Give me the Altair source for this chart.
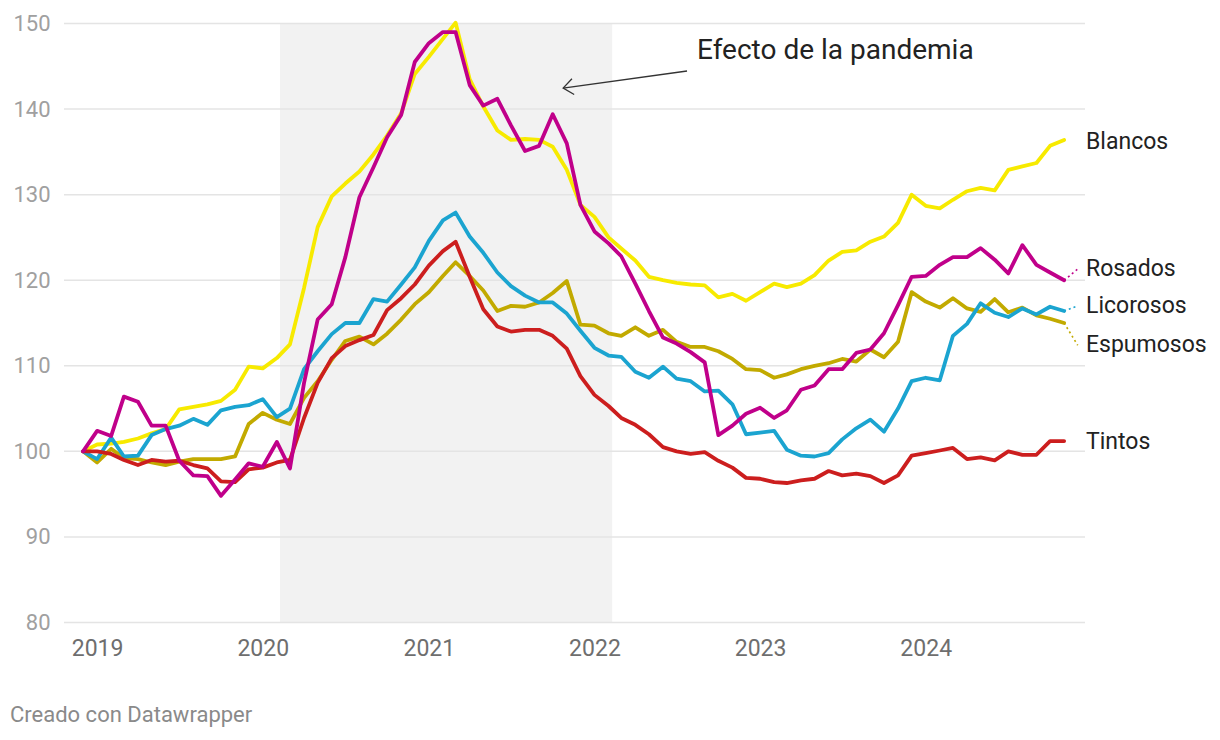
import altair as alt
import pandas as pd

# ---- data (monthly index, base Dec 2018 = 100) ----
fechas = list(pd.date_range("2018-12-01", periods=72, freq="MS").strftime("%Y-%m-%d"))

blancos = [100, 100.8, 100.9, 101.1, 101.5, 102.1, 102.6, 104.9, 105.2, 105.5,
           105.9, 107.2, 109.9, 109.7, 110.9, 112.5, 119.1, 126.2, 129.8, 131.3,
           132.7, 134.7, 136.9, 139.5, 144.1, 146.1, 148.2, 150.1, 143.5, 140.3,
           137.5, 136.4, 136.5, 136.4, 135.6, 132.9, 128.8, 127.4, 125.0, 123.7,
           122.3, 120.4, 120.0, 119.7, 119.5, 119.4, 118.0, 118.4, 117.6, 118.6,
           119.6, 119.2, 119.6, 120.6, 122.3, 123.3, 123.5, 124.5, 125.1, 126.7,
           130.0, 128.7, 128.4, 129.4, 130.4, 130.8, 130.5, 132.9, 133.3, 133.7,
           135.7, 136.4]
rosados = [100, 102.4, 101.8, 106.4, 105.8, 103.0, 103.0, 98.9, 97.2, 97.1,
           94.8, 96.7, 98.6, 98.2, 101.1, 98.0, 108.0, 115.4, 117.2, 122.7,
           129.7, 133.2, 136.7, 139.3, 145.5, 147.7, 149.0, 149.0, 142.8, 140.4,
           141.2, 138.1, 135.1, 135.7, 139.4, 136.0, 128.8, 125.7, 124.3, 122.8,
           119.6, 116.4, 113.3, 112.6, 111.6, 110.4, 101.9, 103.0, 104.4, 105.1,
           103.9, 104.8, 107.2, 107.7, 109.6, 109.6, 111.5, 111.9, 113.8, 117.1,
           120.4, 120.5, 121.8, 122.7, 122.7, 123.75, 122.4, 120.8, 124.1, 121.8,
           120.9, 120.0]
licorosos = [100, 99.1, 101.6, 99.4, 99.5, 101.9, 102.6, 103.0, 103.8, 103.1,
             104.8, 105.2, 105.4, 106.1, 104.0, 105.0, 109.6, 111.7, 113.7, 115.0,
             115.0, 117.8, 117.5, 119.5, 121.5, 124.6, 127.0, 127.9, 125.1, 123.2,
             120.9, 119.3, 118.2, 117.4, 117.4, 116.1, 114.1, 112.1, 111.2, 111.05,
             109.3, 108.6, 109.9, 108.5, 108.2, 107.0, 107.1, 105.5, 102.0, 102.2,
             102.4, 100.2, 99.5, 99.4, 99.8, 101.4, 102.7, 103.7, 102.3, 105.0,
             108.2, 108.6, 108.3, 113.5, 114.9, 117.3, 116.2, 115.7, 116.7, 116.0,
             116.9, 116.4]
espumosos = [100, 98.7, 100.3, 99.2, 99.1, 98.7, 98.4, 98.8, 99.1, 99.1,
             99.1, 99.4, 103.2, 104.5, 103.7, 103.2, 106.25, 108.2, 110.7, 112.9,
             113.4, 112.5, 113.75, 115.4, 117.2, 118.6, 120.5, 122.1, 120.5, 118.8,
             116.4, 117.0, 116.9, 117.4, 118.5, 119.9, 114.8, 114.7, 113.8, 113.5,
             114.5, 113.5, 114.2, 112.8, 112.2, 112.2, 111.7, 110.8, 109.6, 109.5,
             108.6, 109.0, 109.6, 110.0, 110.3, 110.8, 110.5, 111.9, 111.0, 112.8,
             118.6, 117.5, 116.8, 117.9, 116.7, 116.3, 117.8, 116.25, 116.8, 115.9,
             115.5, 115.0]
tintos = [100, 100, 99.7, 99.0, 98.4, 99.0, 98.8, 98.9, 98.4, 98.0,
          96.5, 96.4, 97.9, 98.1, 98.7, 99.0, 103.9, 108.0, 110.9, 112.3,
          113.0, 113.6, 116.5, 117.9, 119.5, 121.7, 123.4, 124.5, 120.4, 116.6,
          114.6, 114.0, 114.2, 114.2, 113.5, 112.0, 108.8, 106.6, 105.3, 103.9,
          103.1, 102.0, 100.5, 100.0, 99.7, 99.9, 98.9, 98.1, 96.9, 96.8,
          96.4, 96.3, 96.6, 96.8, 97.7, 97.2, 97.4, 97.1, 96.3, 97.2,
          99.5, 99.8, 100.1, 100.4, 99.1, 99.3, 98.95, 100.0, 99.6, 99.6,
          101.2, 101.2]

series = ["Blancos", "Espumosos", "Licorosos", "Tintos", "Rosados"]
valores = {"Blancos": blancos, "Rosados": rosados, "Licorosos": licorosos,
           "Espumosos": espumosos, "Tintos": tintos}
colores = {"Blancos": "#f7ea00", "Rosados": "#c0008a", "Licorosos": "#1ba4d0",
           "Espumosos": "#c2aa00", "Tintos": "#cc1e1e"}

# label anchor values on the right
etiqueta_pos = {"Blancos": 136.2, "Rosados": 121.3, "Licorosos": 117.0,
                "Espumosos": 112.4, "Tintos": 101.1}
con_conector = ["Rosados", "Licorosos", "Espumosos"]

y_ticks = [80, 90, 100, 110, 120, 130, 140, 150]
years = [2019, 2020, 2021, 2022, 2023, 2024]

banda_ini = "2020-02-08"
banda_fin = "2022-02-09"

# ---- tables ----
rows = []
for s in series:
    for f, v in zip(fechas, valores[s]):
        rows.append({"serie": s, "fecha": f, "valor": v})
df = pd.DataFrame(rows)

df_lab = pd.DataFrame({"serie": list(etiqueta_pos.keys()),
                       "pos": list(etiqueta_pos.values())})
df_con = pd.DataFrame({
    "serie": con_conector,
    "f1": [fechas[-1]] * len(con_conector),
    "v1": [valores[s][-1] for s in con_conector],
    "f2": ["2024-12-01"] * len(con_conector),
    "v2": [etiqueta_pos[s] for s in con_conector],
})
df_grid = pd.DataFrame({"valor": y_ticks})
df_band = pd.DataFrame({"ini": [banda_ini], "fin": [banda_fin]})
df_arrow = pd.DataFrame({"f1": ["2022-07-24"], "v1": [144.45],
                         "f2": ["2021-10-24"], "v2": [142.46]})
df_annot = pd.DataFrame({"fecha": ["2022-08-15"], "valor": [146.8],
                         "texto": ["Efecto de la pandemia"]})

FONT = "Roboto"

xscale = alt.Scale(type="utc", domain=[
    alt.DateTime(year=2018, month=10, date=20, utc=True),
    alt.DateTime(year=2024, month=12, date=17, utc=True)])
yscale = alt.Scale(domain=[80, 150], nice=False, zero=False)

x_axis = alt.Axis(values=[alt.DateTime(year=y, month=1, date=1, utc=True) for y in years],
                  format="%Y", formatType="utc", grid=False, domain=False, ticks=False,
                  tickSize=0, labelPadding=15, labelFontSize=23, labelColor="#6e6e6e",
                  labelFont=FONT, labelFlush=False, labelOverlap=False, title=None)
y_axis = alt.Axis(values=y_ticks, grid=False, domain=False, ticks=False, tickSize=0,
                  labelPadding=14, labelFontSize=22, labelColor="#a0a0a0",
                  labelFont=FONT, title=None)

band = alt.Chart(df_band).mark_rect(color="#f2f2f2").encode(
    x=alt.X("ini:T", scale=xscale, axis=x_axis),
    x2="fin:T",
)

grid = alt.Chart(df_grid).mark_rule(color="#e4e4e4", strokeWidth=1.5).encode(
    y=alt.Y("valor:Q", scale=yscale, axis=y_axis)
)

lines = []
for s in series:
    lines.append(
        alt.Chart(df).transform_filter(alt.datum.serie == s).mark_line(
            color=colores[s], strokeWidth=3.8, strokeJoin="round", strokeCap="round"
        ).encode(
            x=alt.X("fecha:T", scale=xscale),
            y=alt.Y("valor:Q", scale=yscale),
        )
    )

color_scale = alt.Scale(domain=list(colores.keys()), range=list(colores.values()))

conectores = alt.Chart(df_con).mark_rule(strokeDash=[2, 3], strokeWidth=1.6).encode(
    x=alt.X("f1:T", scale=xscale), x2="f2:T",
    y=alt.Y("v1:Q", scale=yscale), y2="v2:Q",
    color=alt.Color("serie:N", scale=color_scale, legend=None),
)

etiquetas = alt.Chart(df_lab).mark_text(
    align="left", baseline="middle", fontSize=23, font=FONT, color="#222222"
).encode(
    x=alt.value(1022),
    y=alt.Y("pos:Q", scale=yscale),
    text="serie:N",
)

flecha = alt.Chart(df_arrow).mark_rule(color="#333333", strokeWidth=1.3).encode(
    x=alt.X("f1:T", scale=xscale), x2="f2:T",
    y=alt.Y("v1:Q", scale=yscale), y2="v2:Q",
)
punta = alt.Chart(df_arrow).mark_point(
    shape="M 1 -0.8 L 0 0 L 1 0.8", filled=False, size=400, angle=352,
    color="#333333", strokeWidth=1.3, opacity=1
).encode(
    x=alt.X("f2:T", scale=xscale),
    y=alt.Y("v2:Q", scale=yscale),
)

anotacion = alt.Chart(df_annot).mark_text(
    align="left", baseline="middle", fontSize=28, font=FONT, color="#222222"
).encode(
    x=alt.X("fecha:T", scale=xscale),
    y=alt.Y("valor:Q", scale=yscale),
    text="texto:N",
)

pie = alt.Chart(df_annot).mark_text(
    align="left", baseline="middle", fontSize=22, font=FONT, color="#8a8a8a",
    text="Creado con Datawrapper"
).encode(
    x=alt.value(-54),
    y=alt.value(691),
)

chart = alt.layer(
    band, grid, *lines, conectores, etiquetas, flecha, punta, anotacion, pie
).properties(
    width=1021, height=599,
    padding={"left": 56, "top": 15.5, "right": 127, "bottom": 110},
    autosize="none",
    background="white",
).configure_view(strokeWidth=0)

chart.save("out.html", embed_options={"renderer": "svg", "actions": False})
